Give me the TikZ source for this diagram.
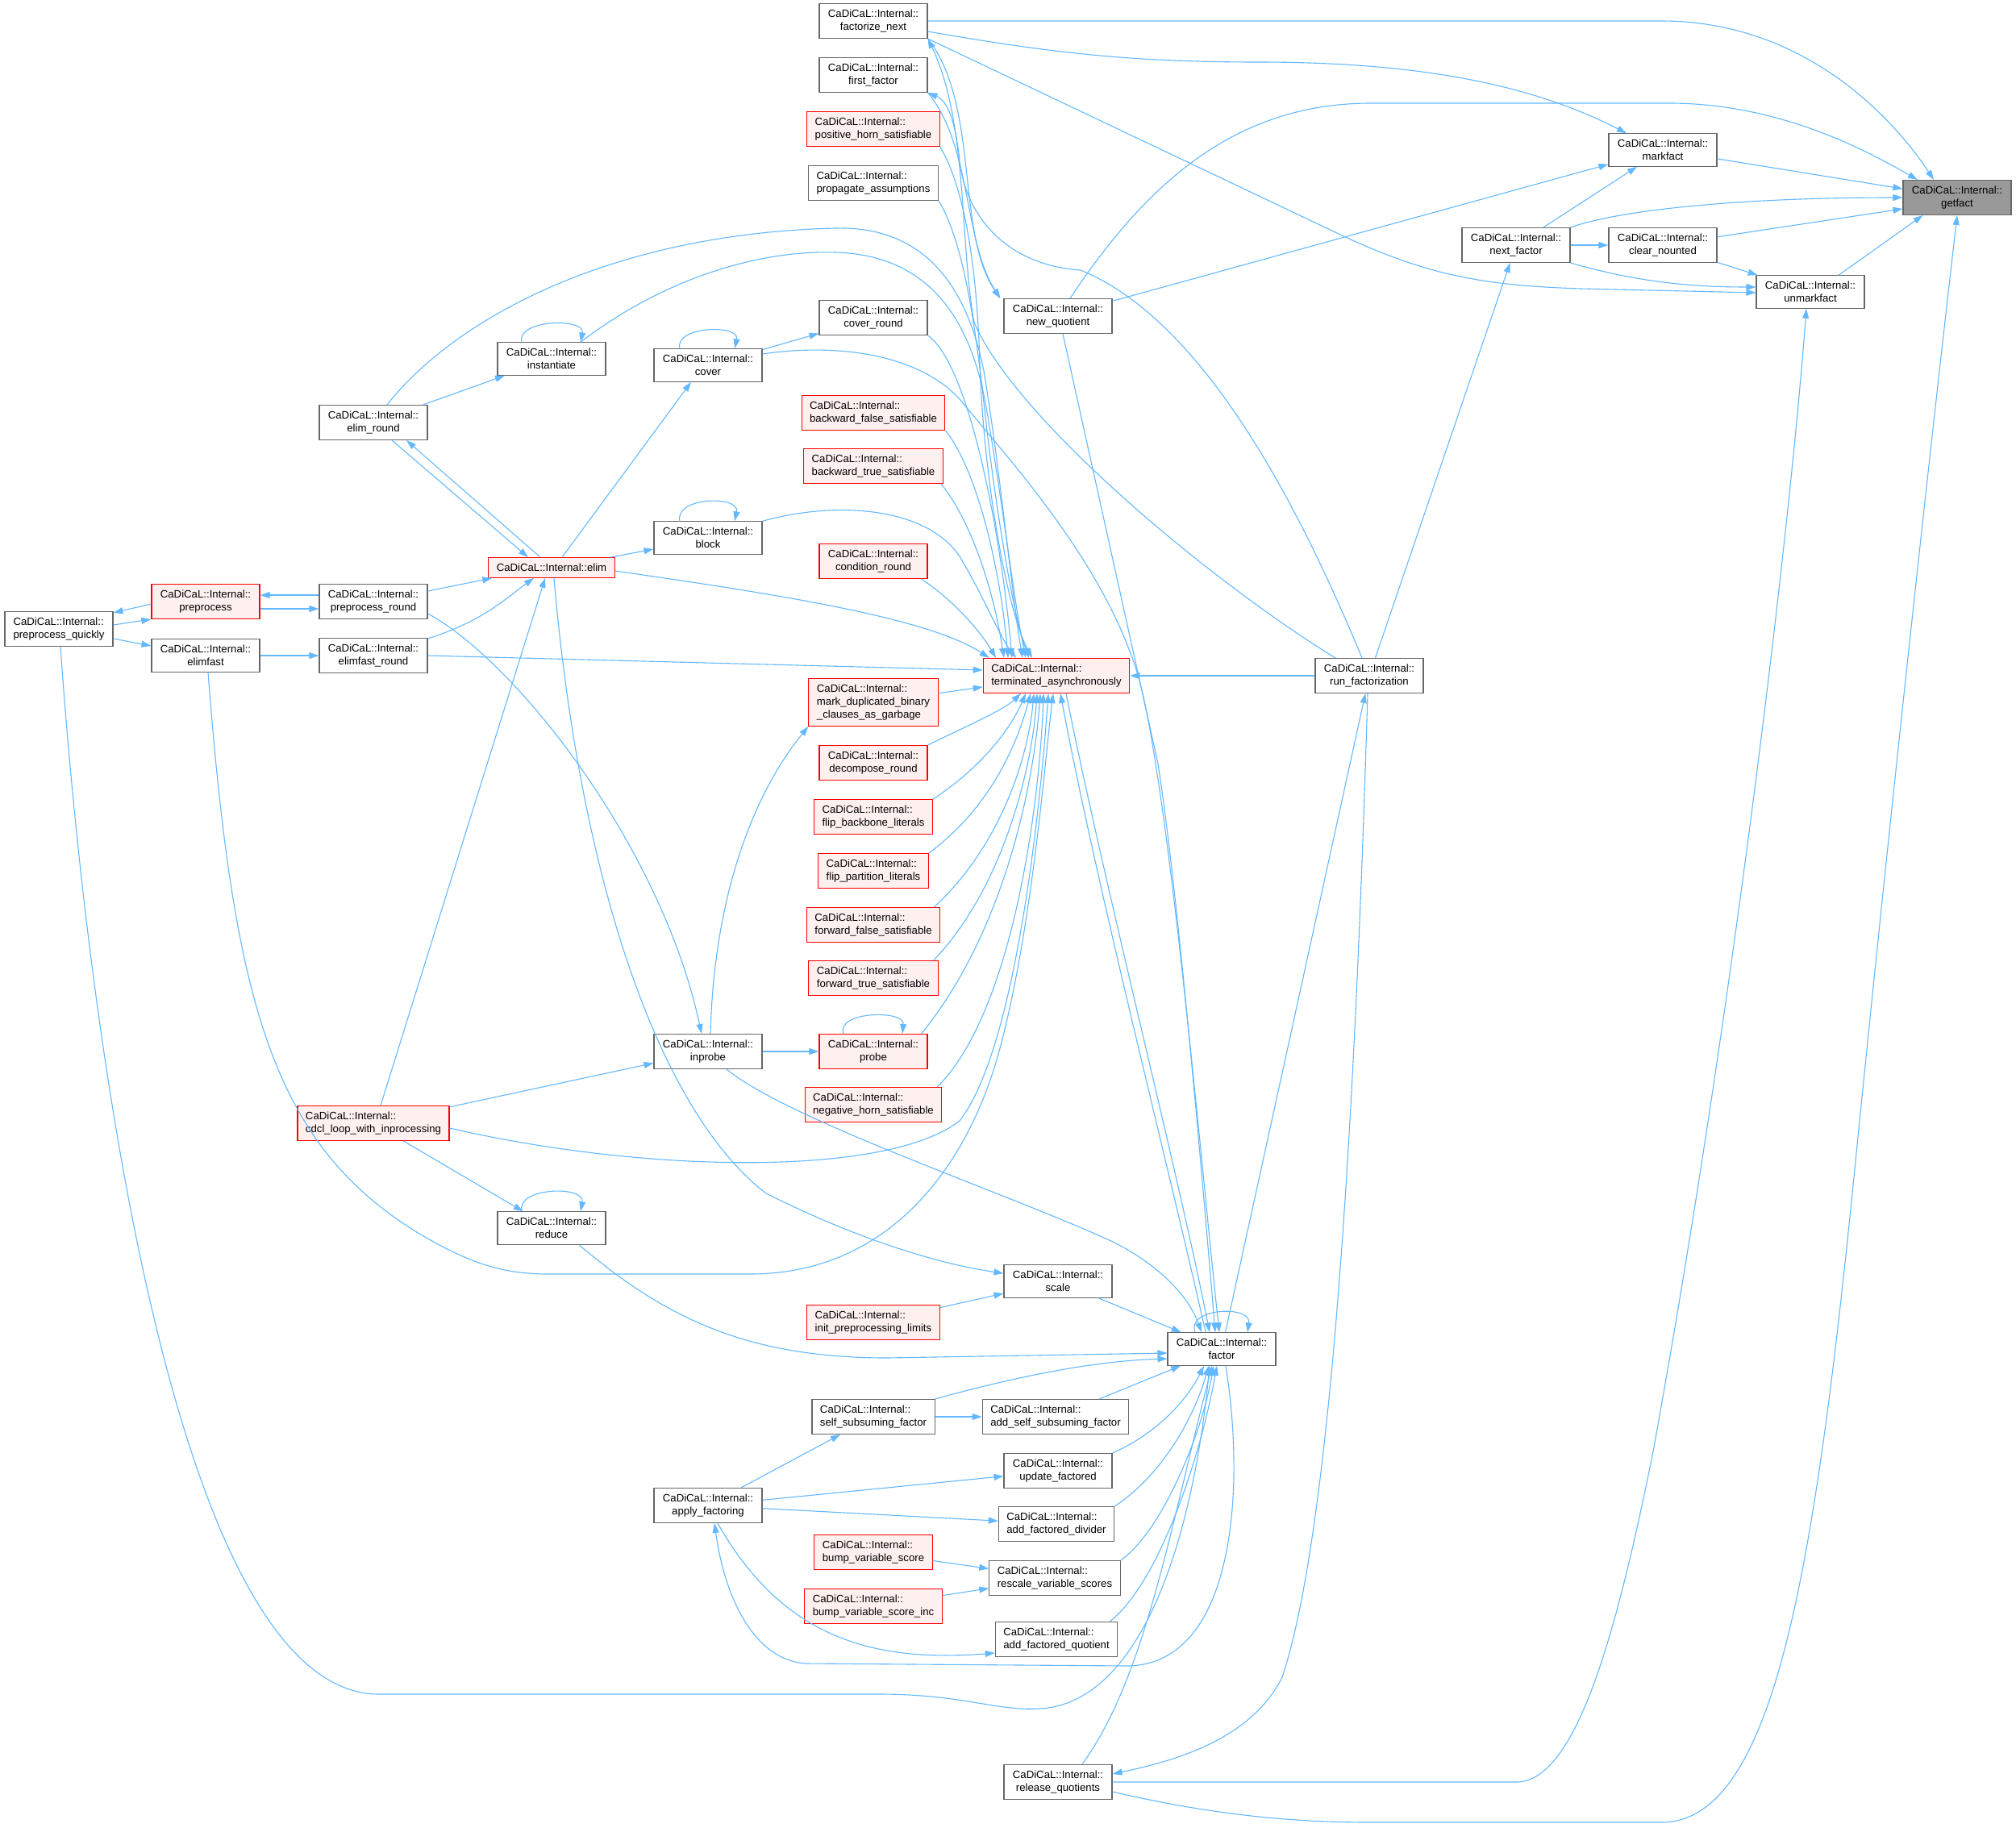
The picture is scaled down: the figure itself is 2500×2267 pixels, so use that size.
\documentclass[tikz,border=0pt]{standalone}
\usepackage{fontspec}
\setmainfont{Liberation Sans}
\usetikzlibrary{arrows.meta}
\definecolor{callblue}{HTML}{63B8FF}
\definecolor{boxgrey}{HTML}{666666}
\definecolor{redfill}{HTML}{FFF0F0}
\definecolor{rootfill}{HTML}{999999}
\newcommand{\callfont}{\fontsize{13.2}{15.7}\selectfont}
\tikzset{
  func/.style={shape=rectangle,draw=boxgrey,fill=white,line width=1.1pt,minimum width=134pt,inner xsep=10pt,inner ysep=7.5pt,align=center,font=\callfont},
  funcl/.style={func,align=left},
  redfunc/.style={func,draw=red,fill=redfill},
  redfuncl/.style={redfunc,align=left},
  rootfunc/.style={func,fill=rootfill},
  call/.style={draw=callblue,line width=1.1pt,-{Triangle[length=12pt,width=8pt]}}
}
\begin{document}
\begin{tikzpicture}[x=1pt,y=-1pt]
\useasboundingbox (0,0) rectangle (2500,2267);
% functions
\node[rootfunc] (gf) at (2427,245) {CaDiCaL::Internal::\\getfact};
\node[func] (fn) at (1083,26) {CaDiCaL::Internal::\\factorize\_next};
\node[func] (ff) at (1083,93) {CaDiCaL::Internal::\\first\_factor};
\node[redfuncl] (phs) at (1083,160) {CaDiCaL::Internal::\\positive\_horn\_satisfiable};
\node[funcl] (pa) at (1083,227) {CaDiCaL::Internal::\\propagate\_assumptions};
\node[func] (mf) at (2062,186) {CaDiCaL::Internal::\\markfact};
\node[func] (nf) at (1880,304) {CaDiCaL::Internal::\\next\_factor};
\node[func] (cn) at (2062,304) {CaDiCaL::Internal::\\clear\_nounted};
\node[func] (umf) at (2245,362) {CaDiCaL::Internal::\\unmarkfact};
\node[func] (nq) at (1312,392) {CaDiCaL::Internal::\\new\_quotient};
\node[func] (cvr) at (1083,394) {CaDiCaL::Internal::\\cover\_round};
\node[func] (inst) at (684,445) {CaDiCaL::Internal::\\instantiate};
\node[func] (cov) at (878,453) {CaDiCaL::Internal::\\cover};
\node[func] (er) at (463,524) {CaDiCaL::Internal::\\elim\_round};
\node[redfuncl] (bfs) at (1083,512) {CaDiCaL::Internal::\\backward\_false\_satisfiable};
\node[redfuncl] (bts) at (1083,578) {CaDiCaL::Internal::\\backward\_true\_satisfiable};
\node[func] (blk) at (878,667) {CaDiCaL::Internal::\\block};
\node[redfunc] (cr) at (1083,696) {CaDiCaL::Internal::\\condition\_round};
\node[redfunc] (elim) at (684,704) {CaDiCaL::Internal::elim};
\node[redfunc] (pp) at (255,746) {CaDiCaL::Internal::\\preprocess};
\node[func] (ppr) at (463,746) {CaDiCaL::Internal::\\preprocess\_round};
\node[funcl] (ppq) at (73,780) {CaDiCaL::Internal::\\preprocess\_quickly};
\node[func] (ef) at (255,813) {CaDiCaL::Internal::\\elimfast};
\node[func] (efr) at (463,813) {CaDiCaL::Internal::\\elimfast\_round};
\node[redfuncl] (ta) at (1310,838) {CaDiCaL::Internal::\\terminated\_asynchronously};
\node[func] (rf) at (1698,838) {CaDiCaL::Internal::\\run\_factorization};
\node[redfuncl] (mdb) at (1083,871) {CaDiCaL::Internal::\\mark\_duplicated\_binary\\\_clauses\_as\_garbage};
\node[redfunc] (dr) at (1083,946) {CaDiCaL::Internal::\\decompose\_round};
\node[redfuncl] (fbl) at (1083,1013) {CaDiCaL::Internal::\\flip\_backbone\_literals};
\node[redfuncl] (fpl) at (1083,1080) {CaDiCaL::Internal::\\flip\_partition\_literals};
\node[redfuncl] (ffs) at (1083,1147) {CaDiCaL::Internal::\\forward\_false\_satisfiable};
\node[redfuncl] (fts) at (1083,1213) {CaDiCaL::Internal::\\forward\_true\_satisfiable};
\node[func] (inp) at (878,1304) {CaDiCaL::Internal::\\inprobe};
\node[redfunc] (prb) at (1083,1304) {CaDiCaL::Internal::\\probe};
\node[redfuncl] (nhs) at (1083,1370) {CaDiCaL::Internal::\\negative\_horn\_satisfiable};
\node[redfuncl] (cdcl) at (463,1393) {CaDiCaL::Internal::\\cdcl\_loop\_with\_inprocessing};
\node[func] (red) at (684,1523) {CaDiCaL::Internal::\\reduce};
\node[func] (sc) at (1312,1589) {CaDiCaL::Internal::\\scale};
\node[redfuncl] (ipl) at (1083,1640) {CaDiCaL::Internal::\\init\_preprocessing\_limits};
\node[func] (fac) at (1515,1673) {CaDiCaL::Internal::\\factor};
\node[funcl] (ssf) at (1083,1757) {CaDiCaL::Internal::\\self\_subsuming\_factor};
\node[funcl] (assf) at (1309,1757) {CaDiCaL::Internal::\\add\_self\_subsuming\_factor};
\node[func] (uf) at (1312,1824) {CaDiCaL::Internal::\\update\_factored};
\node[func] (af) at (878,1867) {CaDiCaL::Internal::\\apply\_factoring};
\node[funcl] (afd) at (1310,1890) {CaDiCaL::Internal::\\add\_factored\_divider};
\node[redfuncl] (bvs) at (1083,1925) {CaDiCaL::Internal::\\bump\_variable\_score};
\node[funcl] (rvs) at (1308,1957) {CaDiCaL::Internal::\\rescale\_variable\_scores};
\node[redfuncl] (bvsi) at (1083,1992) {CaDiCaL::Internal::\\bump\_variable\_score\_inc};
\node[funcl] (afq) at (1310,2033) {CaDiCaL::Internal::\\add\_factored\_quotient};
\node[func] (rq) at (1312,2210) {CaDiCaL::Internal::\\release\_quotients};
% calls into getfact
\draw[call] (fn.east) -- (2060,26) .. controls (2240,26) and (2350,150) .. ([xshift=-29pt]gf.north);
\draw[call] ([yshift=-13pt]fn.east) .. controls (1300,65) and (1400,77) .. (1560,77) .. controls (1760,77) and (1900,105) .. ([xshift=-45pt]mf.north);
\draw[call] (fn.south east) -- (1660,290) .. controls (1770,342) and (1840,354) .. (1960,358) -- ([yshift=-1pt]umf.west);
\draw[call] (mf) -- (gf);
\draw[call] ([xshift=15pt]nq.north) .. controls (1420,230) and (1530,128) .. (1700,128) -- (2070,128) .. controls (2210,128) and (2320,190) .. ([xshift=-49pt]gf.north);
\draw[call] (nf.north east) .. controls (2010,260) and (2160,245) .. (gf.west);
\draw[call] (cn) -- ([yshift=-14pt]gf.west);
\draw[call] ([xshift=35pt]umf.north) -- ([xshift=25pt]gf.south west);
\draw[call] ([yshift=-12pt]rq.east) .. controls (1500,2250) and (1600,2260) .. (1700,2260) -- (2060,2260) .. controls (2200,2260) and (2250,1950) .. (2300,1450) .. controls (2350,950) and (2400,500) .. (gf.south);
\draw[call] (nf) -- (mf);
\draw[call] (nq) -- ([yshift=3pt]mf.south west);
\draw[call] (nf) -- (cn);
\draw[call] (nf.south east) .. controls (2030,350) and (2100,356) .. ([yshift=6pt]umf.west);
\draw[call] (cn) -- (umf);
\draw[call] (rq.east) -- (1880,2210) .. controls (1950,2210) and (2000,2050) .. (2050,1800) .. controls (2150,1250) and (2220,650) .. ([xshift=-5pt]umf.south);
% run_factorization
\draw[call] (rf) -- (nf);
\draw[call] (rf) -- (ta);
\draw[call] ([xshift=-42pt]rf.north) .. controls (1500,720) and (1260,520) .. (1208,400) .. controls (1190,300) and (1200,150) .. (fn.south east);
\draw[call] ([xshift=-9pt]rf.north) .. controls (1620,650) and (1500,400) .. (1340,335) .. controls (1260,330) and (1200,280) .. (1190,200) .. controls (1185,150) and (1175,125) .. (ff.south east);
\draw[call] (fn.south east) .. controls (1215,130) and (1185,290) .. ([xshift=-4pt]nq.north west);
\draw[call] (ff.south east) .. controls (1205,180) and (1195,300) .. ([xshift=-4pt]nq.north west);
% factor
\draw[call] ([xshift=6pt]nq.south) -- (1436,947) .. controls (1460,1100) and (1490,1450) .. ([xshift=-8pt]fac.north);
\draw[call] ([yshift=14pt]cov.east) .. controls (1040,425) and (1140,440) .. (1190,495) .. controls (1260,580) and (1370,700) .. (1412,840) .. controls (1450,980) and (1490,1450) .. ([xshift=-3pt]fac.north);
\draw[call] ([xshift=12pt]ta.south) .. controls (1370,1100) and (1460,1450) .. ([xshift=-15pt]fac.north);
\draw[call] ([xshift=-20pt]fac.north) .. controls (1450,1450) and (1360,1100) .. ([xshift=5pt]ta.south);
\draw[call] (fac) -- (rf);
\draw[call] ([xshift=-2pt]rf.south) .. controls (1680,1400) and (1650,1900) .. (1590,2080) .. controls (1550,2160) and (1450,2185) .. ([yshift=10pt]rq.east);
\draw[call] ([xshift=30pt]rq.north) .. controls (1420,2080) and (1450,1900) .. ([xshift=-12pt]fac.south);
\draw[call] ([xshift=2pt]ppq.south) .. controls (110,1300) and (220,2101) .. (470,2101) -- (1090,2101) .. controls (1200,2101) and (1240,2125) .. (1300,2118) .. controls (1420,2100) and (1480,1900) .. ([xshift=-15pt]fac.south);
\draw[call] ([xshift=5pt]fac.south) .. controls (1545,1850) and (1530,2062) .. (1400,2066) -- (1000,2063) .. controls (940,2060) and (900,1990) .. ([xshift=8pt]af.south);
\draw[call] ([xshift=12pt]af.south) .. controls (970,2030) and (1080,2062) .. ([yshift=-17pt]afq.west);
\draw[call] (af) -- (ssf);
\draw[call] (af) -- (uf);
\draw[call] (af) -- (afd);
\draw[call] (ssf) -- (assf);
\draw[call] (bvs) -- (rvs);
\draw[call] (bvsi) -- (rvs);
\draw[call] (ipl) -- (sc);
\draw[call] (sc) -- (fac);
\draw[call] (assf) -- (fac);
\draw[call] (uf.north east) .. controls (1430,1780) and (1470,1740) .. ([xshift=-22pt]fac.south);
\draw[call] (afd.north east) .. controls (1440,1830) and (1480,1760) .. ([xshift=-16pt]fac.south);
\draw[call] (rvs.north east) .. controls (1440,1900) and (1490,1780) .. ([xshift=-10pt]fac.south);
\draw[call] ([xshift=-10pt]afq.north east) .. controls (1440,1960) and (1490,1800) .. ([xshift=-6pt]fac.south);
\draw[call] ([xshift=34pt]red.south) .. controls (820,1630) and (920,1684) .. (1100,1684) -- ([yshift=-5pt]fac.west);
\draw[call] (ssf.north east) .. controls (1250,1710) and (1350,1688) .. ([yshift=-12pt]fac.west);
\draw[call] ([xshift=23pt]inp.south) .. controls (980,1390) and (1250,1480) .. (1380,1540) .. controls (1440,1570) and (1475,1610) .. ([xshift=-25pt]fac.north);
\draw[call] ([xshift=-33pt]fac.north) .. controls (1470,1622) and (1552,1618) .. ([xshift=32pt]fac.north);
% preprocessing and elimination
\draw[call] ([yshift=-3pt]pp.west) -- ([yshift=-2pt]ppq.north east);
\draw[call] ([yshift=5pt]ppq.east) -- ([yshift=-22pt]pp.west);
\draw[call] ([yshift=-12pt]ppq.east) -- ([yshift=12pt]ef.west);
\draw[call] ([yshift=8pt]ppr.west) -- ([yshift=8pt]pp.east);
\draw[call] ([yshift=-9pt]pp.east) -- ([yshift=-9pt]ppr.west);
\draw[call] (ef) -- (efr);
\draw[call] ([yshift=13pt]ppr.east) -- ([xshift=5pt]elim.south west);
\draw[call] ([yshift=21pt]efr.east) .. controls (600,770) and (630,740) .. ([xshift=-22pt]elim.south);
\draw[call] ([xshift=9pt]cdcl.north) -- ([xshift=-8pt]elim.south);
\draw[call] ([xshift=23pt]er.south) -- ([xshift=-29pt]elim.north);
\draw[call] ([xshift=-14pt]elim.north) -- ([xshift=41pt]er.south);
\draw[call] (er) -- (inst);
\draw[call] ([xshift=-37pt]inst.north) .. controls (640,396) and (726,394) .. ([xshift=36pt]inst.north);
\draw[call] ([xshift=13pt]elim.north) -- ([xshift=-21pt]cov.south);
\draw[call] ([xshift=-35pt]cov.north) .. controls (836,404) and (918,402) .. ([xshift=33pt]cov.north);
\draw[call] (cov) -- (cvr);
\draw[call] ([xshift=73pt]elim.north) -- ([yshift=-14pt]blk.west);
\draw[call] ([xshift=-35pt]blk.north) .. controls (836,616) and (918,614) .. ([xshift=33pt]blk.north);
\draw[call] ([yshift=-15pt]ppr.east) .. controls (640,820) and (820,1050) .. ([xshift=-8pt]inp.north);
\draw[call] (cdcl) -- (inp);
\draw[call] (cdcl) -- (red);
\draw[call] ([xshift=-37pt]red.north) .. controls (640,1472) and (726,1470) .. ([xshift=36pt]red.north);
\draw[call] (inp) -- (prb);
\draw[call] ([xshift=-37pt]prb.north) .. controls (1036,1254) and (1122,1252) .. ([xshift=36pt]prb.north);
\draw[call] ([xshift=3pt]inp.north) .. controls (885,1120) and (930,990) .. (mdb.south west);
\draw[call] ([xshift=3pt]elim.south) .. controls (720,1100) and (820,1380) .. (950,1480) .. controls (1080,1545) and (1180,1570) .. ([yshift=10pt]sc.west);
% terminated_asynchronously
\draw[call] ([yshift=-4pt]elim.east) .. controls (950,735) and (1150,765) .. ([xshift=8pt]ta.north west);
\draw[call] (efr.east) -- ([yshift=7pt]ta.west);
\draw[call] (mdb) -- ([yshift=-14pt]ta.west);
\draw[call] ([xshift=17pt]er.north) .. controls (560,400) and (750,290) .. (1036,283) .. controls (1150,280) and (1200,360) .. (1220,460) .. controls (1240,580) and (1255,740) .. ([xshift=-42pt]ta.north);
\draw[call] ([xshift=36pt]inst.north) .. controls (830,340) and (950,310) .. (1036,313) .. controls (1140,316) and (1200,380) .. (1222,500) .. controls (1240,600) and (1258,750) .. ([xshift=-38pt]ta.north);
\draw[call] (cvr.south east) .. controls (1200,450) and (1240,650) .. ([xshift=-55pt]ta.north);
\draw[call] (bfs.south east) .. controls (1210,580) and (1240,700) .. ([xshift=-60pt]ta.north);
\draw[call] ([xshift=-3pt]bts.south east) .. controls (1200,640) and (1230,720) .. ([xshift=-65pt]ta.north);
\draw[call] (blk.north east) .. controls (1040,620) and (1150,630) .. (1190,690) .. controls (1220,740) and (1240,790) .. ([xshift=-50pt]ta.north);
\draw[call] ([xshift=-8pt]cr.south east) .. controls (1190,750) and (1220,790) .. ([xshift=-75pt]ta.north);
\draw[call] (phs.south east) .. controls (1200,240) and (1212,350) .. (1215,450) .. controls (1220,600) and (1250,760) .. ([xshift=-30pt]ta.north);
\draw[call] (pa.south east) .. controls (1195,300) and (1208,400) .. (1218,480) .. controls (1230,600) and (1255,760) .. ([xshift=-34pt]ta.north);
\draw[call] (dr.north east) .. controls (1200,900) and (1245,880) .. ([xshift=-44pt]ta.south);
\draw[call] (fbl.north east) .. controls (1220,950) and (1255,900) .. ([xshift=-38pt]ta.south);
\draw[call] (fpl.north east) .. controls (1230,1000) and (1262,920) .. ([xshift=-32pt]ta.south);
\draw[call] ([xshift=-8pt]ffs.north east) .. controls (1240,1050) and (1275,940) .. ([xshift=-28pt]ta.south);
\draw[call] ([xshift=-6pt]fts.north east) .. controls (1245,1100) and (1280,950) .. ([xshift=-24pt]ta.south);
\draw[call] ([xshift=-8pt]prb.north east) .. controls (1250,1150) and (1283,960) .. ([xshift=-20pt]ta.south);
\draw[call] ([xshift=-6pt]nhs.north east) .. controls (1260,1250) and (1290,980) .. ([xshift=-16pt]ta.south);
\draw[call] ([yshift=-6pt]cdcl.east) .. controls (800,1455) and (1100,1460) .. (1190,1390) .. controls (1260,1300) and (1290,1000) .. ([xshift=-10pt]ta.south);
\draw[call] ([xshift=3pt]ef.south) .. controls (290,1250) and (340,1420) .. (520,1530) .. controls (580,1565) and (620,1580) .. (680,1580) -- (930,1580) .. controls (1100,1580) and (1200,1450) .. (1240,1300) .. controls (1280,1150) and (1295,950) .. ([xshift=-4pt]ta.south);
\end{tikzpicture}
\end{document}
